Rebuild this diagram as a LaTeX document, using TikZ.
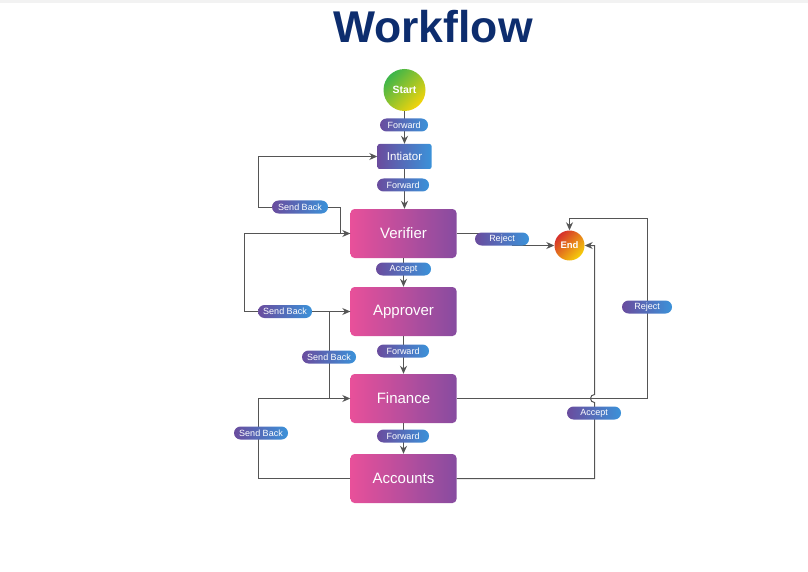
\documentclass[tikz,border=0pt]{standalone}
\usepackage{fontspec}
\setmainfont{Liberation Sans}
\usetikzlibrary{arrows.meta}
\definecolor{titleblue}{HTML}{0D2D6E}
\definecolor{pinkL}{HTML}{E8509A}
\definecolor{pinkR}{HTML}{874CA0}
\definecolor{purpL}{HTML}{6A4C9E}
\definecolor{blueR}{HTML}{3B92D9}
\definecolor{startG}{HTML}{3DB54A}
\definecolor{startY}{HTML}{F4D40A}
\definecolor{endR}{HTML}{D6302B}
\definecolor{endY}{HTML}{F6CF0A}
\definecolor{linegray}{HTML}{555555}
\tikzset{
  stagebox/.style={rectangle, rounded corners=4pt, minimum width=106pt, minimum height=49pt,
    left color=pinkL, right color=pinkR, text=white, font=\fontsize{15}{15}\selectfont},
  initbox/.style={rectangle, rounded corners=2pt, minimum width=54pt, minimum height=25pt,
    left color=purpL, right color=blueR, text=white, font=\fontsize{11.5}{11.5}\selectfont},
  pill/.style={rectangle, rounded corners=6.5pt, minimum width=52pt, minimum height=13pt, inner sep=1pt,
    left color=purpL, right color=blueR, text=white, font=\fontsize{9}{9}\selectfont},
  startnode/.style={circle, minimum size=42pt, inner sep=0pt, top color=startG, bottom color=startY,
    shading angle=45, text=white, font=\bfseries\fontsize{10.5}{10.5}\selectfont},
  endnode/.style={circle, minimum size=30pt, inner sep=0pt, top color=endR, bottom color=endY,
    shading angle=45, text=white, font=\bfseries\fontsize{9.5}{9.5}\selectfont},
  conn/.style={draw=linegray, line width=1pt, -{Stealth[length=8pt,width=7pt]}},
  plainline/.style={draw=linegray, line width=1pt},
}
\begin{document}
\begin{tikzpicture}[x=1pt,y=-1pt]
\useasboundingbox (0,0) rectangle (808,572);
\fill[black!5] (0,0) rectangle (808,3);
\node[text=titleblue, font=\bfseries\fontsize{44.5}{44.5}\selectfont] (title) at (433,26.5) {Workflow};

% main nodes
\node[startnode] (start) at (404.5,90) {Start};
\node[initbox] (init) at (404.5,156.5) {Intiator};
\node[stagebox] (ver) at (403.5,233.5) {Verifier};
\node[stagebox] (app) at (403.5,311.5) {Approver};
\node[stagebox] (fin) at (403.5,398.5) {Finance};
\node[stagebox] (acc) at (403.5,478.5) {Accounts};
\node[endnode] (end) at (569.5,245.5) {End};

% helper coordinates
\coordinate (vr1) at (512.5,233.5);
\coordinate (vr2) at (512.5,245.5);
\coordinate (fr1) at (647.5,398.5);
\coordinate (fr2) at (647.5,218.5);
\coordinate (fr3) at (569.5,218.5);
\coordinate (ar1) at (594.5,478.5);
\coordinate (ar2) at (594.5,402.5);
\coordinate (ar3) at (594.5,245.5);
\coordinate (vs1) at (340.5,233.5);
\coordinate (vs2) at (340.5,207.5);
\coordinate (vs3) at (258.5,207.5);
\coordinate (vs4) at (258.5,156.5);
\coordinate (as1) at (244.5,311.5);
\coordinate (as2) at (244.5,233.5);
\coordinate (fs1) at (329.5,398.5);
\coordinate (fs2) at (329.5,311.5);
\coordinate (cs1) at (258.5,478.5);
\coordinate (cs2) at (258.5,398.5);

% vertical flow
\draw[conn] (start) -- (init);
\draw[conn] (init.south) -- (init.south |- ver.north);
\draw[conn] (ver) -- (app);
\draw[conn] (app) -- (fin);
\draw[conn] (fin) -- (acc);

% to End
\draw[conn] (ver.east) -- (vr1) -- (vr2) -- (end.west);
\draw[conn] (fin.east) -- (fr1) -- (fr2) -- (fr3) -- (end.north);
\draw[conn] (acc.east) -- (ar1) -- (ar2) arc[start angle=90, end angle=270, radius=4] -- (ar3) -- (end.east);

% send backs
\draw[conn] (vs1) -- (vs2) -- (vs3) -- (vs4) -- (init.west);
\draw[plainline] (ver.west) -- (vs1);
\draw[conn] (app.west) -- (as1) -- (as2) -- (ver.west);
\draw[conn] (fs1) -- (fs2) -- (app.west);
\draw[conn] (acc.west) -- (cs1) -- (cs2) -- (fin.west);

% labels
\node[pill, minimum width=48pt] (l1) at (404,125) {Forward};
\node[pill] (l2) at (403,185) {Forward};
\node[pill, minimum width=55pt] (l3) at (403.5,269) {Accept};
\node[pill] (l4) at (403,351) {Forward};
\node[pill] (l5) at (403,436) {Forward};
\node[pill, minimum width=54pt] (l6) at (502,239) {Reject};
\node[pill, minimum width=50pt] (l7) at (647,307) {Reject};
\node[pill, minimum width=54pt] (l8) at (594,413) {Accept};
\node[pill, minimum width=56pt] (l9) at (300,207) {Send Back};
\node[pill, minimum width=54pt] (l10) at (285,311.5) {Send Back};
\node[pill, minimum width=54pt] (l11) at (329,357) {Send Back};
\node[pill, minimum width=54pt] (l12) at (261,433) {Send Back};
\end{tikzpicture}
\end{document}
